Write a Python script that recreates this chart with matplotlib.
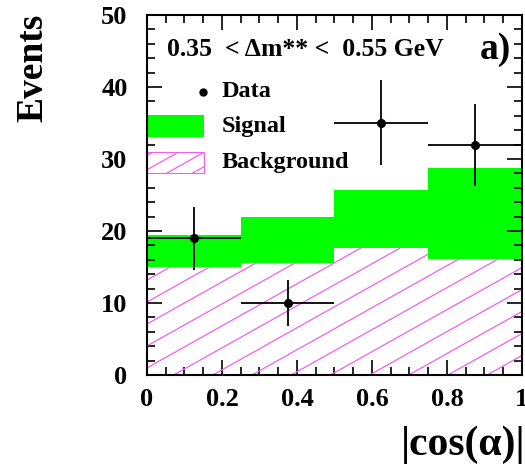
import numpy as np
import matplotlib.pyplot as plt
from matplotlib.collections import LineCollection
from matplotlib.patches import Rectangle
from matplotlib.lines import Line2D

plt.rcParams["font.family"] = ["Liberation Serif", "DejaVu Serif"]
plt.rcParams["font.weight"] = "bold"

# |cos(alpha)| bins, 0.35 < dm** < 0.55 GeV
bin_edges = [0.0, 0.25, 0.5, 0.75, 1.0]
background = [15.0, 15.5, 17.6, 16.1]
signal = [4.4, 6.4, 8.1, 12.6]
data = [19, 10, 35, 32]
data_err = [4.4, 3.2, 5.9, 5.7]

edges = np.array(bin_edges)
centers = (edges[:-1] + edges[1:]) / 2
widths = np.diff(edges)

fig = plt.figure(figsize=(5.25, 4.66), dpi=100)
ax = fig.add_axes([0.28, 0.195, 0.714, 0.773])

hatch_col = "#f060f0"
bg_bars = ax.bar(edges[:-1], background, width=widths, align="edge",
                 color="white", linewidth=0, zorder=1)
ax.bar(edges[:-1], signal, width=widths, bottom=background, align="edge",
       color="#00ff00", linewidth=0, zorder=1)

# slanted hatch drawn as lines clipped to each background bar
slope = 0.56 * (375 / 360)
offs = np.arange(-1.2, 1.2, 0.061)
segs = [[(0, c), (1, c + slope)] for c in offs]
for bar in bg_bars:
    lc = LineCollection(segs, colors=hatch_col, linewidths=0.9,
                        transform=ax.transAxes, zorder=2)
    ax.add_collection(lc)
    lc.set_clip_path(bar)

ax.errorbar(centers, data, xerr=widths / 2, yerr=data_err, fmt="o",
            color="black", ms=5.5, elinewidth=1.3, capsize=0, zorder=4)

ax.set_xlim(0, 1)
ax.set_ylim(0, 50)
ax.set_xticks([0, 0.2, 0.4, 0.6, 0.8, 1.0])
ax.set_xticklabels(["0", "0.2", "0.4", "0.6", "0.8", "1"])
ax.set_xticks(np.arange(0, 1.0001, 0.05), minor=True)
ax.set_yticks(np.arange(0, 51, 10))
ax.set_yticks(np.arange(0, 51, 2), minor=True)
ax.tick_params(which="both", direction="in", top=True, right=True,
               width=1.2, labelsize=19)
ax.tick_params(which="major", length=11)
ax.tick_params(which="minor", length=6)
ax.tick_params(axis="y", pad=14)
ax.tick_params(axis="x", pad=9)
for lab in ax.get_xticklabels() + ax.get_yticklabels():
    lab.set_fontweight("bold")
for s in ax.spines.values():
    s.set_linewidth(1.5)
    s.set_zorder(5)

# header text
ax.text(0.053, 0.903, "0.35  < \u0394m** <  0.55 GeV", transform=ax.transAxes,
        fontsize=18.5, fontweight="bold", va="center", ha="left")
ax.text(0.97, 0.903, "a)", transform=ax.transAxes,
        fontsize=27, fontweight="bold", va="center", ha="right")

# legend
ax.add_line(Line2D([0.149], [0.786], marker="o", color="black", ms=5,
                   transform=ax.transAxes))
ax.text(0.2, 0.786, "Data", transform=ax.transAxes, fontsize=17.5,
        fontweight="bold", va="center")
ax.add_patch(Rectangle((0.0, 0.661), 0.152, 0.061, transform=ax.transAxes,
                       facecolor="#00ff00", edgecolor="none", zorder=3))
ax.text(0.2, 0.69, "Signal", transform=ax.transAxes, fontsize=17.5,
        fontweight="bold", va="center")
leg_box = Rectangle((0.0, 0.561), 0.152, 0.058, transform=ax.transAxes,
                    facecolor="white", edgecolor=hatch_col, lw=0.8, zorder=3)
ax.add_patch(leg_box)
leg_segs = [[(0, c), (0.2, c + 0.2 * slope)] for c in np.arange(0.45, 0.65, 0.04)]
lc = LineCollection(leg_segs, colors=hatch_col, linewidths=0.9,
                    transform=ax.transAxes, zorder=3)
ax.add_collection(lc)
lc.set_clip_path(leg_box)
ax.text(0.2, 0.59, "Background", transform=ax.transAxes, fontsize=17.5,
        fontweight="bold", va="center")

fig.text(0.063, 0.855, "Events", rotation=90, fontsize=27,
         fontweight="bold", ha="center", va="center")
fig.text(1.0, 0.045, "|cos(\u03b1)|", fontsize=30,
         fontweight="bold", ha="right", va="center")

fig.savefig("out.png", dpi=100)
